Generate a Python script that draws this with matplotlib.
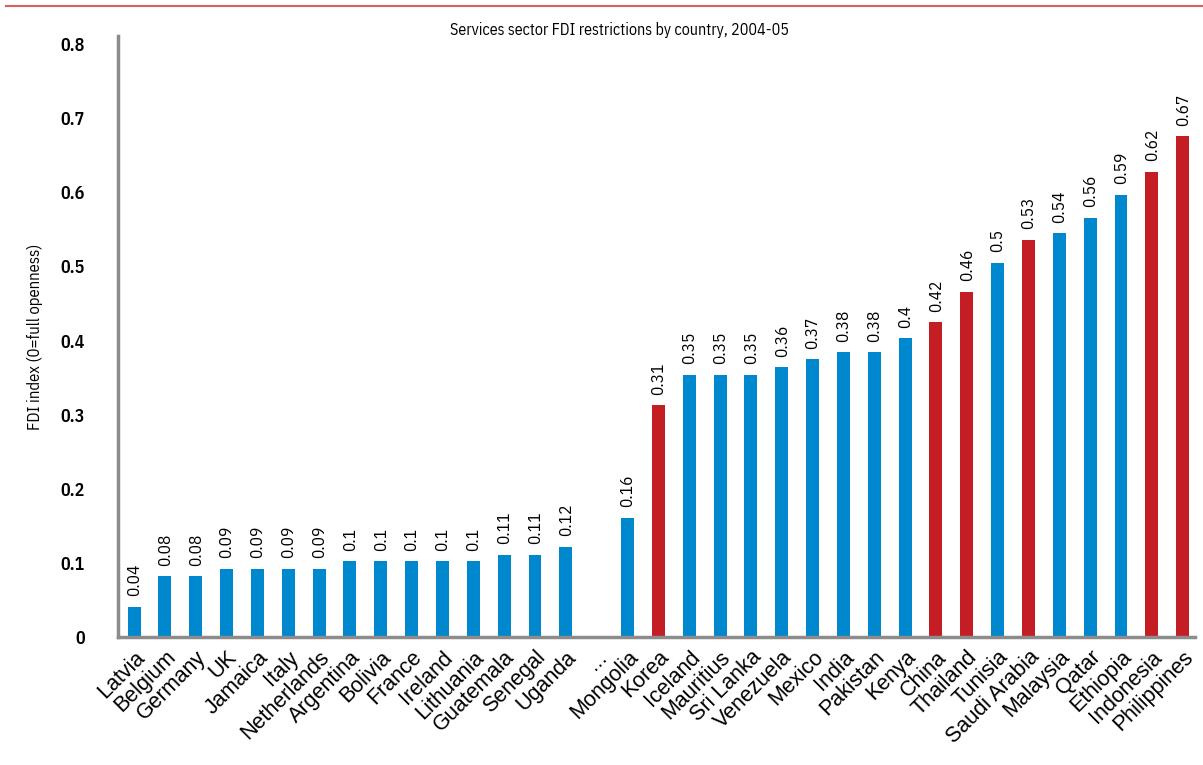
import numpy as np
import matplotlib.pyplot as plt
from matplotlib.lines import Line2D

# country order as in the chart ("..." is the empty gap slot)
countries = ['Latvia', 'Belgium', 'Germany', 'UK', 'Jamaica', 'Italy', 'Netherlands',
             'Argentina', 'Bolivia', 'France', 'Ireland', 'Lithuania', 'Guatemala',
             'Senegal', 'Uganda', '...', 'Mongolia', 'Korea', 'Iceland', 'Mauritius',
             'Sri Lanka', 'Venezuela', 'Mexico', 'India', 'Pakistan', 'Kenya', 'China',
             'Thailand', 'Tunisia', 'Saudi Arabia', 'Malaysia', 'Qatar', 'Ethiopia',
             'Indonesia', 'Philippines']
fdi = [0.041, 0.082, 0.082, 0.092, 0.092, 0.092, 0.092,
       0.102, 0.102, 0.102, 0.102, 0.102, 0.111,
       0.111, 0.122, 0.0, 0.161, 0.313, 0.354, 0.354,
       0.354, 0.364, 0.375, 0.384, 0.384, 0.403, 0.425,
       0.466, 0.505, 0.536, 0.545, 0.566, 0.597,
       0.628, 0.676]
value_labels = ['0.04', '0.08', '0.08', '0.09', '0.09', '0.09', '0.09',
                '0.1', '0.1', '0.1', '0.1', '0.1', '0.11',
                '0.11', '0.12', '', '0.16', '0.31', '0.35', '0.35',
                '0.35', '0.36', '0.37', '0.38', '0.38', '0.4', '0.42',
                '0.46', '0.5', '0.53', '0.54', '0.56', '0.59',
                '0.62', '0.67']
highlight = ['Korea', 'China', 'Thailand', 'Saudi Arabia', 'Indonesia', 'Philippines']
yticks = [0, 0.1, 0.2, 0.3, 0.4, 0.5, 0.6, 0.7, 0.8]

blue = '#0088cf'
red = '#c41e24'
narrow = ['IBM Plex Sans Condensed', 'Liberation Sans Narrow', 'DejaVu Sans']
arial = ['Liberation Sans', 'DejaVu Sans']

fig = plt.figure(figsize=(12.03, 7.65), dpi=100)
ax = fig.add_axes([118/1203, 128/765, 1077/1203, 601/765])

x = np.arange(len(countries))
colors = [red if c in highlight else blue for c in countries]
ax.bar(x, fdi, width=0.42, color=colors)

for xi, v, t in zip(x, fdi, value_labels):
    if t:
        ax.text(xi, v + 0.014, t, rotation=90, ha='center', va='bottom',
                fontsize=12.5, family=narrow)

ax.set_xlim(-0.52, len(countries) - 0.6)
ax.set_ylim(0, 0.811)
ax.set_yticks(yticks)
ax.set_yticklabels(['0' if t == 0 else f'{t:g}' for t in yticks],
                   fontsize=13, fontweight='semibold', family=narrow)
ax.set_xticks(x)
ax.set_xticklabels(countries, rotation=45, ha='right', rotation_mode='anchor',
                   fontsize=15.5, family=arial)
ax.tick_params(length=0)
ax.tick_params(axis='y', pad=24)
ax.tick_params(axis='x', pad=7)

for s in ['top', 'right']:
    ax.spines[s].set_visible(False)
for s in ['left', 'bottom']:
    ax.spines[s].set_color('#8c8c8c')
    ax.spines[s].set_linewidth(2.5)

ax.set_ylabel('FDI index (0=full openness)', fontsize=12, family=narrow)
ax.yaxis.set_label_coords(-0.07, 0.5)

fig.text(0.515, 1 - 30/765, 'Services sector FDI restrictions by country, 2004-05',
         ha='center', va='center', fontsize=11.5, family=narrow)
fig.add_artist(Line2D([6/1203, 1], [1 - 6/765, 1 - 6/765], color='#d9605e', lw=1.5))

fig.savefig('out.png', dpi=100)
